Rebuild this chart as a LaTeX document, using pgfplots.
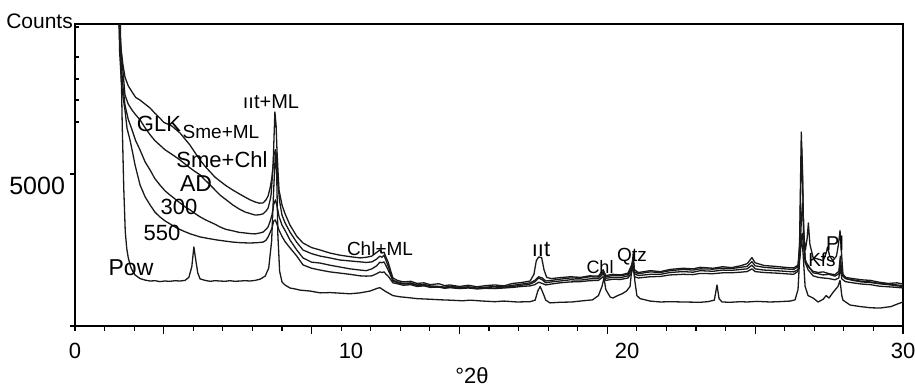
\documentclass[border=0pt]{standalone}
\usepackage{fontspec}
\setmainfont{Liberation Sans}
\usepackage{pgfplots}
\pgfplotsset{compat=1.18}
\newcommand{\fs}[1]{\fontsize{#1}{#1}\selectfont}
\tikzset{xrd/.style={draw=black!90, line width=1.3pt, line join=round, mark=none}}
\begin{document}
\begin{tikzpicture}
\begin{axis}[
  at={(0,0)}, anchor=south west,
  scale only axis, width=828pt, height=302pt,
  xmin=2, xmax=30, ymin=0, ymax=9934,
  axis line style={line width=2.2pt, black},
  tick align=outside, major tick length=8pt, minor tick length=4.5pt,
  every tick/.style={black, line width=1.2pt},
  xtick pos=bottom, ytick pos=left,
  xtick={5,10,15,20,25,30}, xticklabels={,,,,,},
  minor xtick={2,3,4,6,7,8,9,11,12,13,14,16,17,18,19,21,22,23,24,26,27,28,29},
  extra x ticks={2,11.3333,20.6667,30},
  extra x tick labels={0,10,20,30},
  extra x tick style={major tick length=0pt},
  xticklabel style={font=\fs{22}, yshift=-14pt},
  ytick=\empty,
  extra y ticks={0,5000},
  extra y tick labels={,5000},
  extra y tick style={major tick length=4.5pt},
  yticklabel style={font=\fs{25}, yshift=-12pt, xshift=-2pt},
  clip mode=individual,
]
\coordinate (SW) at (rel axis cs:0,0);
% GLK
\addplot[xrd] coordinates {(3.45,12000)(3.50,9900)(3.56,9100)(3.62,8600)(3.69,8190)(3.80,7900)(3.93,7700)(4.05,7520)(4.20,7430)(4.37,7300)(4.54,7170)(4.70,7000)(4.87,6840)(5.00,6700)(5.11,6650)(5.21,6620)(5.31,6550)(5.43,6450)(5.55,6350)(5.72,6150)(5.89,5950)(6.06,5700)(6.23,5460)(6.40,5250)(6.57,5070)(6.73,4900)(6.90,4770)(7.10,4620)(7.34,4470)(7.55,4350)(7.75,4240)(7.92,4150)(8.09,4080)(8.23,4040)(8.36,4050)(8.46,4150)(8.53,4280)(8.60,4550)(8.66,4900)(8.70,5300)(8.73,6200)(8.76,7040)(8.80,6600)(8.83,5790)(8.87,5000)(8.90,4470)(9.00,3980)(9.10,3700)(9.27,3320)(9.50,2950)(9.71,2730)(10.00,2580)(10.29,2500)(10.62,2400)(10.96,2330)(11.30,2280)(11.64,2240)(11.85,2260)(12.04,2300)(12.20,2420)(12.31,2500)(12.38,2400)(12.45,2430)(12.52,2250)(12.59,2100)(12.68,1800)(12.75,1580)(12.90,1500)(13.10,1450)(13.35,1470)(13.57,1400)(13.80,1420)(14.01,1360)(14.30,1390)(14.50,1330)(14.68,1350)(15.00,1300)(15.30,1340)(15.60,1290)(15.90,1330)(16.20,1350)(16.50,1320)(16.80,1400)(17.10,1430)(17.39,1480)(17.52,1700)(17.60,2150)(17.68,2270)(17.78,2250)(17.86,1850)(17.95,1600)(18.10,1560)(18.40,1590)(18.75,1620)(19.10,1600)(19.40,1650)(19.70,1640)(19.86,1850)(19.95,1660)(20.19,1700)(20.45,1680)(20.70,1740)(20.82,2000)(20.87,2200)(20.92,1850)(21.05,1760)(21.45,1820)(21.80,1790)(22.12,1860)(22.56,1900)(22.90,1880)(23.14,1930)(23.58,1900)(23.90,1950)(24.20,1920)(24.50,1980)(24.73,2050)(24.89,2250)(25.00,2080)(25.30,1990)(25.70,1960)(26.00,1930)(26.30,1910)(26.45,2000)(26.52,2600)(26.57,3600)(26.60,4050)(26.64,3300)(26.69,2200)(26.79,1950)(26.96,1800)(27.13,1760)(27.30,1780)(27.50,1720)(27.70,1690)(27.83,1800)(27.88,2300)(27.93,1750)(28.05,1600)(28.30,1560)(28.60,1520)(28.90,1500)(29.20,1440)(29.50,1400)(29.80,1420)(30.00,1380)};
% AD
\addplot[xrd] coordinates {(3.45,12000)(3.51,9600)(3.57,8900)(3.63,8300)(3.69,7600)(3.80,7300)(3.93,7100)(4.05,6950)(4.20,6780)(4.37,6520)(4.54,6290)(4.70,6100)(4.87,5950)(5.04,5800)(5.21,5690)(5.38,5580)(5.55,5460)(5.72,5330)(5.89,5200)(6.06,5080)(6.23,4970)(6.40,4800)(6.57,4640)(6.73,4480)(6.90,4310)(7.10,4160)(7.34,3980)(7.55,3850)(7.75,3750)(7.92,3700)(8.09,3650)(8.25,3660)(8.36,3690)(8.46,3780)(8.53,3880)(8.60,4150)(8.63,4310)(8.68,5000)(8.72,5600)(8.78,5800)(8.82,5500)(8.86,4700)(8.92,4100)(9.00,3650)(9.10,3400)(9.27,3090)(9.50,2750)(9.71,2500)(10.00,2380)(10.29,2300)(10.62,2240)(10.96,2170)(11.30,2140)(11.64,2110)(11.85,2090)(12.04,2110)(12.20,2200)(12.31,2300)(12.38,2260)(12.45,2330)(12.52,2150)(12.59,1970)(12.68,1700)(12.75,1510)(12.90,1450)(13.10,1400)(13.35,1420)(13.57,1350)(13.80,1370)(14.01,1320)(14.30,1300)(14.50,1280)(14.68,1310)(15.00,1270)(15.30,1290)(15.60,1250)(15.90,1280)(16.20,1300)(16.50,1290)(16.80,1340)(17.10,1380)(17.39,1420)(17.55,1500)(17.68,1620)(17.80,1580)(17.92,1480)(18.10,1500)(18.40,1540)(18.75,1580)(19.10,1570)(19.40,1620)(19.70,1610)(19.86,1780)(19.95,1620)(20.19,1660)(20.45,1650)(20.70,1700)(20.82,1900)(20.87,2150)(20.92,1780)(21.05,1720)(21.45,1780)(21.80,1760)(22.12,1820)(22.56,1860)(22.90,1840)(23.14,1880)(23.58,1870)(23.90,1900)(24.20,1890)(24.50,1930)(24.73,1960)(24.89,2120)(25.00,1980)(25.30,1930)(25.70,1900)(26.00,1880)(26.30,1860)(26.45,1950)(26.51,2800)(26.54,4500)(26.57,5890)(26.60,5000)(26.64,3000)(26.70,2100)(26.79,2000)(26.96,1750)(27.13,1720)(27.30,1680)(27.50,1700)(27.70,1640)(27.83,1720)(27.88,2100)(27.93,1680)(28.05,1560)(28.30,1520)(28.60,1470)(28.90,1450)(29.20,1400)(29.50,1380)(29.80,1350)(30.00,1330)};
% 300
\addplot[xrd] coordinates {(3.45,12000)(3.51,9400)(3.57,8500)(3.63,7800)(3.69,7270)(3.80,6800)(3.93,6450)(4.05,6100)(4.20,5790)(4.37,5400)(4.54,5130)(4.70,4850)(4.87,4640)(5.04,4450)(5.21,4310)(5.38,4180)(5.55,4050)(5.72,3920)(5.89,3820)(6.06,3700)(6.23,3590)(6.40,3500)(6.57,3420)(6.73,3350)(6.90,3260)(7.10,3180)(7.34,3130)(7.55,3080)(7.75,3060)(7.92,3040)(8.09,3030)(8.25,3060)(8.36,3090)(8.46,3180)(8.53,3260)(8.60,3450)(8.66,3650)(8.72,4000)(8.78,4150)(8.83,3950)(8.90,3600)(9.00,3320)(9.10,3150)(9.27,2830)(9.50,2500)(9.71,2240)(10.00,2100)(10.29,2070)(10.62,2000)(10.96,1940)(11.30,1880)(11.64,1840)(11.85,1820)(12.04,1880)(12.20,1980)(12.31,2100)(12.38,2080)(12.45,2110)(12.52,1980)(12.59,1840)(12.68,1650)(12.75,1480)(12.90,1430)(13.10,1380)(13.35,1390)(13.57,1330)(13.80,1340)(14.01,1290)(14.30,1300)(14.50,1260)(14.68,1280)(15.00,1250)(15.30,1270)(15.60,1230)(15.90,1260)(16.20,1250)(16.50,1280)(16.80,1300)(17.10,1340)(17.39,1380)(17.55,1450)(17.68,1580)(17.80,1520)(17.92,1420)(18.10,1450)(18.40,1480)(18.75,1520)(19.10,1510)(19.40,1550)(19.70,1560)(19.86,1720)(19.95,1570)(20.19,1600)(20.45,1590)(20.70,1650)(20.82,1850)(20.87,2100)(20.92,1720)(21.05,1660)(21.45,1700)(21.80,1700)(22.12,1760)(22.56,1790)(22.90,1770)(23.14,1820)(23.58,1800)(23.90,1840)(24.20,1830)(24.50,1860)(24.73,1880)(24.89,2000)(25.00,1880)(25.30,1840)(25.70,1820)(26.00,1800)(26.30,1780)(26.45,1850)(26.52,2300)(26.56,2900)(26.59,3050)(26.63,2700)(26.69,2100)(26.79,1850)(26.96,1650)(27.13,1600)(27.30,1580)(27.50,1560)(27.70,1520)(27.83,1580)(27.88,1950)(27.93,1550)(28.05,1460)(28.30,1420)(28.60,1380)(28.90,1360)(29.20,1310)(29.50,1290)(29.80,1270)(30.00,1250)};
% 550
\addplot[xrd] coordinates {(3.45,12000)(3.51,9000)(3.57,8000)(3.63,7500)(3.69,7100)(3.76,6500)(3.86,6120)(3.95,5700)(4.03,5300)(4.12,4950)(4.20,4640)(4.37,4250)(4.54,3980)(4.70,3750)(4.87,3590)(5.04,3460)(5.21,3360)(5.43,3230)(5.65,3130)(5.90,3030)(6.23,2930)(6.50,2880)(6.80,2830)(7.10,2790)(7.34,2760)(7.60,2740)(7.92,2730)(8.15,2740)(8.36,2760)(8.46,2820)(8.53,2930)(8.60,3080)(8.66,3220)(8.72,3450)(8.77,3490)(8.83,3350)(8.90,3150)(9.00,2950)(9.10,2780)(9.27,2570)(9.50,2300)(9.71,2010)(10.00,1900)(10.29,1840)(10.62,1780)(10.96,1740)(11.30,1700)(11.64,1650)(11.85,1640)(12.04,1650)(12.20,1720)(12.31,1780)(12.38,1760)(12.45,1780)(12.52,1700)(12.59,1640)(12.68,1520)(12.75,1420)(12.90,1390)(13.10,1340)(13.35,1360)(13.57,1300)(13.80,1320)(14.01,1270)(14.30,1280)(14.50,1240)(14.68,1260)(15.00,1230)(15.30,1250)(15.60,1220)(15.90,1240)(16.20,1230)(16.50,1250)(16.80,1270)(17.10,1300)(17.39,1320)(17.55,1360)(17.68,1440)(17.80,1400)(17.92,1350)(18.10,1380)(18.40,1420)(18.75,1450)(19.10,1460)(19.40,1490)(19.70,1500)(19.86,1620)(19.95,1500)(20.19,1540)(20.45,1530)(20.70,1580)(20.82,1750)(20.87,1950)(20.92,1620)(21.05,1580)(21.45,1620)(21.80,1630)(22.12,1680)(22.56,1700)(22.90,1690)(23.14,1730)(23.58,1720)(23.90,1750)(24.20,1750)(24.50,1770)(24.73,1790)(24.89,1880)(25.00,1790)(25.30,1760)(25.70,1740)(26.00,1720)(26.30,1700)(26.45,1800)(26.50,2600)(26.53,4500)(26.56,6380)(26.60,5200)(26.64,3000)(26.70,2500)(26.76,2900)(26.80,3390)(26.85,2700)(26.96,2250)(27.13,2200)(27.30,2150)(27.40,2400)(27.45,2600)(27.52,2300)(27.63,2150)(27.75,2300)(27.82,2700)(27.87,3140)(27.92,2400)(27.97,1700)(28.10,1550)(28.30,1500)(28.60,1450)(28.90,1430)(29.20,1390)(29.50,1360)(29.80,1320)(30.00,1300)};
% Pow
\addplot[xrd] coordinates {(3.50,12000)(3.55,9000)(3.60,6500)(3.65,4500)(3.70,3100)(3.75,2550)(3.80,2250)(3.88,1950)(3.95,1800)(4.03,1680)(4.20,1560)(4.37,1510)(4.54,1480)(4.71,1490)(4.87,1460)(5.04,1480)(5.21,1470)(5.38,1490)(5.55,1480)(5.72,1500)(5.85,1600)(5.95,1950)(6.02,2600)(6.08,2200)(6.15,1750)(6.23,1550)(6.40,1500)(6.57,1470)(6.73,1490)(6.90,1480)(7.07,1470)(7.24,1490)(7.41,1470)(7.58,1480)(7.75,1490)(7.92,1480)(8.09,1500)(8.26,1540)(8.43,1640)(8.55,1900)(8.65,2800)(8.72,4500)(8.78,5790)(8.82,5000)(8.86,3000)(8.92,1800)(9.00,1450)(9.10,1350)(9.27,1250)(9.44,1220)(9.61,1180)(9.95,1150)(10.29,1090)(10.62,1100)(10.96,1080)(11.30,1060)(11.64,1090)(11.98,1150)(12.22,1240)(12.31,1260)(12.48,1150)(12.75,1000)(12.99,960)(13.30,930)(13.57,900)(14.01,880)(14.40,860)(14.68,850)(15.10,830)(15.36,850)(15.80,820)(16.20,800)(16.50,820)(16.95,790)(17.39,800)(17.56,850)(17.65,1150)(17.73,1300)(17.82,1100)(17.92,850)(18.06,760)(18.40,780)(18.80,790)(19.18,830)(19.50,860)(19.70,1000)(19.82,1300)(19.89,1580)(19.95,1200)(20.10,950)(20.19,920)(20.35,1000)(20.50,1060)(20.65,1150)(20.77,1300)(20.84,2000)(20.88,2420)(20.93,1500)(21.00,1000)(21.11,900)(21.45,820)(21.80,790)(22.12,800)(22.56,790)(23.14,780)(23.40,800)(23.62,850)(23.71,1350)(23.78,900)(23.88,790)(24.15,780)(24.50,800)(24.73,790)(25.06,810)(25.50,790)(25.80,800)(26.18,820)(26.35,860)(26.45,1200)(26.52,2500)(26.57,2830)(26.62,2400)(26.69,1300)(26.79,1000)(26.96,920)(27.13,790)(27.30,880)(27.40,1000)(27.50,920)(27.63,1100)(27.80,1300)(27.87,1500)(27.93,1000)(27.97,850)(28.21,690)(28.55,640)(28.90,600)(29.22,590)(29.60,640)(29.80,720)(30.00,790)};
\end{axis}
% inner y ticks
\foreach \yy in {299,269,247,226,204} {
  \draw[line width=1.2pt] ([shift={(0pt,\yy pt)}]SW) -- ++(4pt,0pt);
}
\node[anchor=east, inner sep=0pt, font=\fs{21}] at ([shift={(-2pt,305pt)}]SW) {Counts};
\node[inner sep=0pt, font=\fs{22}] at ([shift={(397pt,-50pt)}]SW) {°2θ};
\node[inner sep=0pt, font=\fs{20}] at ([shift={(196pt,224pt)}]SW) {ııt+ML};
\node[inner sep=0pt, font=\fs{22}] at ([shift={(84pt,202pt)}]SW) {GLK};
\node[inner sep=0pt, font=\fs{19}] at ([shift={(146pt,194pt)}]SW) {Sme+ML};
\node[inner sep=0pt, font=\fs{22}] at ([shift={(147pt,166pt)}]SW) {Sme+Chl};
\node[inner sep=0pt, font=\fs{23}] at ([shift={(121pt,142pt)}]SW) {AD};
\node[inner sep=0pt, font=\fs{22}] at ([shift={(104pt,119pt)}]SW) {300};
\node[inner sep=0pt, font=\fs{22}] at ([shift={(87pt,93pt)}]SW) {550};
\node[inner sep=0pt, font=\fs{23}] at ([shift={(56pt,58pt)}]SW) {Pow};
\node[inner sep=0pt, font=\fs{19}] at ([shift={(305pt,77pt)}]SW) {Chl+ML};
\node[inner sep=0pt, font=\fs{22}] at ([shift={(466pt,77pt)}]SW) {ııt};
\node[inner sep=0pt, font=\fs{18}] at ([shift={(525pt,59pt)}]SW) {Chl};
\node[inner sep=0pt, font=\fs{19}] at ([shift={(557pt,69pt)}]SW) {Qtz};
\node[inner sep=0pt, font=\fs{19}] at ([shift={(747pt,66pt)}]SW) {Kfs};
\node[inner sep=0pt, font=\fs{20}] at ([shift={(760pt,83pt)}]SW) {Pl};
\pgfresetboundingbox
\path[use as bounding box] ([shift={(-75pt,-65pt)}]SW) rectangle ([shift={(840pt,326pt)}]SW);
\end{tikzpicture}
\end{document}
